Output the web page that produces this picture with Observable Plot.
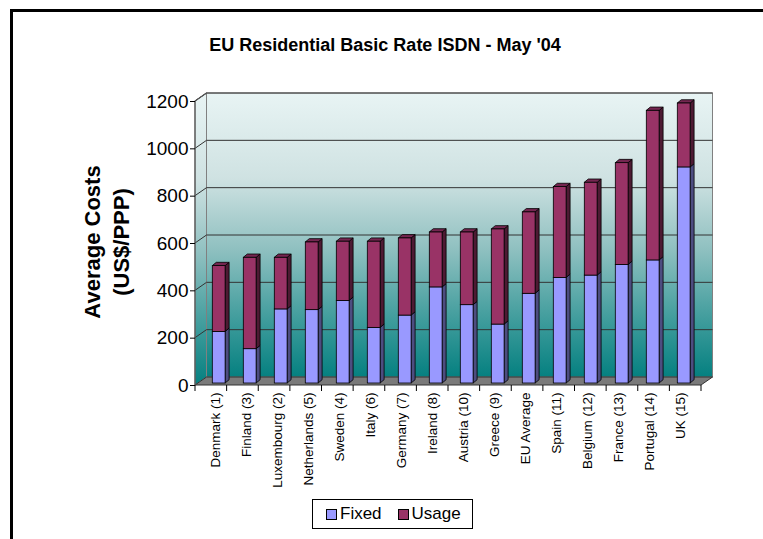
<!DOCTYPE html>
<html>
<head>
<meta charset="utf-8">
<script src="https://cdn.jsdelivr.net/npm/d3@7"></script>
<script src="https://cdn.jsdelivr.net/npm/@observablehq/plot@0.6"></script>
<style>
  html, body { margin: 0; padding: 0; background: #fff; overflow: hidden; }
  #wrap { position: relative; width: 763px; height: 539px; overflow: hidden; font-family: "Liberation Sans", Arial, sans-serif; }
  #ftop { position: absolute; left: 10px; top: 9px; width: 753px; height: 3px; background: #000; }
  #fleft { position: absolute; left: 10px; top: 9px; width: 3px; height: 530px; background: #000; }
  #title { position: absolute; left: 0; width: 770px; top: 35px; text-align: center; font-weight: bold; font-size: 18px; line-height: 20px; color: #000; }
  #ytitle { position: absolute; left: 107px; top: 242px; transform: translate(-50%, -50%) rotate(-90deg); text-align: center; font-weight: bold; font-size: 22px; line-height: 29px; white-space: nowrap; color: #000; }
  #chart { position: absolute; left: 0; top: 0; }
  #legend { position: absolute; left: 312px; top: 499px; width: 161px; height: 30px; border: 1px solid #000; box-sizing: border-box; font-size: 17px; display: flex; align-items: center; }
  .sw { display: inline-block; width: 9px; height: 9px; border: 1px solid #000; margin-right: 3px; }
</style>
</head>
<body>
<div id="wrap">
  <div id="ftop"></div>
  <div id="fleft"></div>
  <div id="title">EU Residential Basic Rate ISDN - May '04</div>
  <div id="ytitle">Average Costs<br>(US$/PPP)</div>
  <div id="chart"></div>
  <div id="legend">
    <span class="sw" style="background:#9999ff;margin-left:13px"></span><span>Fixed</span>
    <span class="sw" style="background:#993366;margin-left:16px"></span><span>Usage</span>
  </div>
</div>
<script>
const countries = ["Denmark (1)", "Finland (3)", "Luxembourg (2)", "Netherlands (5)", "Sweden (4)", "Italy (6)", "Germany (7)", "Ireland (8)", "Austria (10)", "Greece (9)", "EU Average", "Spain (11)", "Belgium (12)", "France (13)", "Portugal (14)", "UK (15)"];
const fixed = [218, 145, 313, 310, 349, 235, 287, 406, 331, 249, 379, 446, 456, 501, 520, 913];
const usage = [278, 386, 218, 286, 250, 364, 326, 232, 307, 402, 344, 384, 392, 430, 632, 270];
const series = ["Fixed", "Usage"];
const yTicks = [0, 200, 400, 600, 800, 1000, 1200];

const frontColors = ["#9999ff", "#993366"];
const sideColors = ["#4d4d80", "#4d1a33"];
const topColor = "#742650";

const rows = [];
countries.forEach((c, i) => {
  rows.push({country: c, series: "Fixed", value: fixed[i]});
  rows.push({country: c, series: "Usage", value: usage[i]});
});

const DX = 11.5, DY = 8;      // wall depth
const BD = 4, BDY = 3.3;      // bar depth
const INL = 12.3, INR = 5.9;  // bar insets within band
const BAR_DY = -2;

function walls(index, scales, values, dimensions) {
  const x = scales.x, y = scales.y;
  const x0 = dimensions.marginLeft, x1 = dimensions.width - dimensions.marginRight;
  const y0 = y(0), yT = y(1200);
  const g = d3.create("svg:g");
  const grad = g.append("defs").append("linearGradient")
    .attr("id", "wallGrad").attr("x1", 0).attr("y1", 0).attr("x2", 0).attr("y2", 1);
  [[0, "#e8f4f4"], [0.3, "#cfe2e2"], [0.55, "#8fc0c0"], [0.8, "#3f9c9c"], [1, "#058080"]]
    .forEach(([o, c]) => grad.append("stop").attr("offset", o).attr("stop-color", c));
  g.append("rect").attr("x", x0 + DX).attr("y", yT - DY).attr("width", x1 - x0).attr("height", y0 - yT)
    .attr("fill", "url(#wallGrad)").attr("stroke", "#808080").attr("stroke-width", 1);
  g.append("path").attr("d", `M${x0},${y0}L${x0},${yT}L${x0 + DX},${yT - DY}L${x0 + DX},${y0 - DY}Z`)
    .attr("fill", "url(#wallGrad)").attr("stroke", "#808080").attr("stroke-width", 1);
  yTicks.slice(1).forEach(v => {
    const yy = y(v);
    g.append("path").attr("d", `M${x0},${yy}L${x0 + DX},${yy - DY}L${x1 + DX},${yy - DY}`)
      .attr("fill", "none").attr("stroke", "#333").attr("stroke-width", 1);
  });
  g.append("path").attr("d", `M${x0},${y0}L${x0 + DX},${y0 - DY}L${x1 + DX},${y0 - DY}L${x1},${y0}Z`)
    .attr("fill", "#7a7a7a").attr("stroke", "#333").attr("stroke-width", 1);
  g.append("path").attr("d", `M${x0},${y0}L${x0},${yT}L${x0 + DX},${yT - DY}`)
    .attr("fill", "none").attr("stroke", "#555").attr("stroke-width", 1.2);
  const step = (x1 - x0) / countries.length;
  for (let i = 0; i <= countries.length; i++) {
    const xx = x0 + i * step;
    g.append("line").attr("x1", xx).attr("x2", xx).attr("y1", y0).attr("y2", y0 + 6)
      .attr("stroke", "#000").attr("stroke-width", 1);
  }
  return g.node();
}

function barFaces(index, scales, values, dimensions) {
  const x = scales.x, y = scales.y;
  const bw = x.bandwidth();
  const g = d3.create("svg:g");
  countries.forEach((c, i) => {
    const xl = x(c) + INL, xr = x(c) + bw - INR;
    const levels = [0, fixed[i], fixed[i] + usage[i]];
    for (let s = 0; s < 2; s++) {
      const yb = y(levels[s]) + BAR_DY, yt = y(levels[s + 1]) + BAR_DY;
      g.append("path").attr("d", `M${xr},${yb}L${xr + BD},${yb - BDY}L${xr + BD},${yt - BDY}L${xr},${yt}Z`)
        .attr("fill", sideColors[s]).attr("stroke", "#000").attr("stroke-width", 0.8).attr("stroke-linejoin", "round");
    }
    const yt = y(levels[2]) + BAR_DY;
    g.append("path").attr("d", `M${xl},${yt}L${xl + BD},${yt - BDY}L${xr + BD},${yt - BDY}L${xr},${yt}Z`)
      .attr("fill", topColor).attr("stroke", "#000").attr("stroke-width", 0.8).attr("stroke-linejoin", "round");
  });
  return g.node();
}

const chart = Plot.plot({
  width: 763,
  height: 495,
  marginLeft: 195,
  marginRight: 62,
  marginTop: 101,
  marginBottom: 110,
  style: {fontFamily: "'Liberation Sans', Arial, sans-serif", color: "#000", background: "transparent"},
  x: {domain: countries, padding: 0, axis: null},
  y: {domain: [0, 1200], axis: null},
  color: {domain: series, range: frontColors},
  marks: [
    walls,
    barFaces,
    Plot.barY(rows, {x: "country", y: "value", fill: "series", stroke: "#000", strokeWidth: 0.8,
      insetLeft: INL, insetRight: INR, dy: BAR_DY}),
    Plot.axisY(yTicks, {tickSize: 5, tickPadding: 2, fontSize: 19, label: null, stroke: "#000", tickFormat: d => String(d)}),
    Plot.axisX(countries, {tickRotate: -90, tickSize: 0, tickPadding: 7, fontSize: 13.5, label: null})
  ]
});
document.getElementById("chart").appendChild(chart);
</script>
</body>
</html>
